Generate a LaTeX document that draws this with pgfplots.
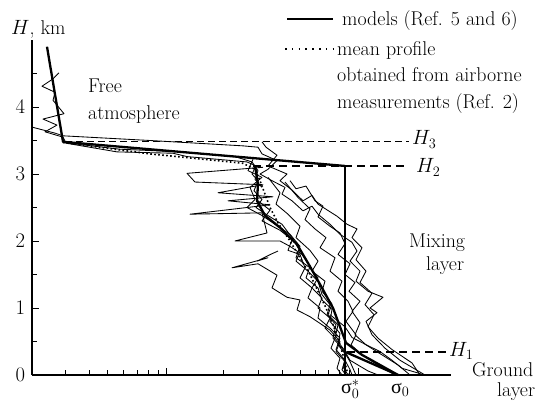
\documentclass[border=0pt]{standalone}
\usepackage{pgfplots}
\pgfplotsset{compat=1.18}
\usepackage{fontspec}
\newfontfamily\grk{Liberation Serif}
\begin{document}
\fontsize{20}{24}\selectfont
\begin{tikzpicture}[lbl/.style={anchor=base west, inner sep=0pt}]
\begin{axis}[
  scale only axis, width=419bp, height=335bp,
  xmin=32, xmax=451, ymin=0, ymax=5,
  axis lines*=left,
  axis line style={line width=1.1bp},
  xtick={166,358}, xticklabel=\empty,
  minor xtick={65.5,89,107.5,123,137,148,158,223,258,282,300,315,328,339,349},
  ytick={0,1,2,3,4}, minor ytick={0.5,1.5,2.5,3.5,4.5},
  tick align=inside, major tick length=7bp, minor tick length=5bp,
  every tick/.style={black, line width=0.9bp},
  tick label style={font=\fontsize{20}{24}\selectfont},
  clip=false,
  thinp/.style={black, line width=0.85bp, line join=round},
  model/.style={black, line width=2.3bp, line join=round},
]
% thin measured profiles
\addplot[thinp] coordinates {(32,3.70) (55,3.61) (63,3.57) (150,3.50) (243,3.42) (258,3.40) (262,3.30) (277,3.20) (268,3.07) (260,3.0) (272,2.9) (285,2.8) (282,2.7) (292,2.6) (303,2.45) (312,2.52) (318,2.4) (330,2.25) (340,2.1) (352,1.98) (357,1.85) (350,1.7) (360,1.55) (356,1.4) (368,1.25) (383,1.16) (370,1.0) (377,0.93) (366,0.8) (372,0.6) (385,0.4) (400,0.22) (425,0)};
\addplot[thinp] coordinates {(59,4.51) (53,4.42) (42,4.31) (55,4.22) (53,4.10) (64,3.90) (43,3.82) (57,3.73) (45,3.63) (63,3.55) (66,3.46) (117,3.33) (173,3.31) (187,3.26) (247,3.18) (256,3.12) (252,3.0) (258,2.9) (254,2.75) (262,2.62) (256,2.5) (268,2.38) (282,2.25) (292,2.05) (300,1.85) (296,1.7) (308,1.55) (318,1.4) (322,1.2) (330,1.05) (327,0.9) (336,0.75) (333,0.55) (342,0.4) (350,0.2) (356,0)};
\addplot[thinp] coordinates {(263,3.10) (187,3.01) (195,2.88) (263,2.84) (218,2.72) (273,2.66) (228,2.60) (270,2.54) (190,2.40) (262,2.42) (267,2.12) (235,2.0) (280,2.0) (290,1.92) (302,1.8) (310,1.62) (306,1.45) (318,1.3) (322,1.12) (332,0.98) (330,0.8) (340,0.62) (338,0.45) (346,0.3) (343,0.12) (348,0)};
\addplot[thinp] coordinates {(278,1.85) (272,1.81) (257,1.70) (268,1.75) (232,1.60) (258,1.66) (277,1.49) (272,1.30) (287,1.16) (300,1.12) (297,0.97) (310,0.87) (330,0.67) (340,0.5) (336,0.35) (345,0.2) (342,0.08) (346,0)};
\addplot[thinp] coordinates {(262,3.48) (266,3.40) (277,3.28) (268,3.12) (287,3.0) (280,2.9) (292,2.76) (303,2.6) (312,2.68) (318,2.55) (337,2.37) (347,2.25) (357,2.18) (352,2.05) (362,1.9) (356,1.72) (366,1.55) (360,1.38) (372,1.22) (365,1.05) (374,0.9) (368,0.72) (378,0.55) (392,0.38) (412,0.18) (420,0)};
\addplot[thinp] coordinates {(253,3.22) (248,3.05) (262,2.95) (250,2.8) (255,2.62) (247,2.5) (262,2.38) (275,2.25) (290,2.1) (300,1.92) (296,1.75) (310,1.6) (318,1.45) (312,1.3) (322,1.15) (318,1.0) (330,0.85) (325,0.7) (335,0.55) (331,0.4) (340,0.25) (337,0.1) (342,0)};
\addplot[thinp] coordinates {(285,2.88) (298,2.65) (310,2.48) (305,2.32) (315,2.18) (326,2.05) (320,1.9) (335,1.75) (330,1.55) (342,1.4) (338,1.25) (348,1.1) (353,0.95) (346,0.8) (356,0.6) (351,0.45) (362,0.3) (378,0.15) (395,0)};
\addplot[thinp] coordinates {(268,2.95) (280,2.72) (276,2.55) (288,2.4) (300,2.22) (296,2.05) (310,1.86) (318,1.7) (312,1.55) (325,1.4) (322,1.25) (332,1.06) (328,0.9) (338,0.75) (335,0.55) (343,0.4) (350,0.22) (368,0.06) (378,0)};
\addplot[thinp] coordinates {(290,2.9) (296,2.78) (306,2.82) (315,2.6) (323,2.52) (318,2.36) (330,2.22) (340,2.12) (345,1.96) (338,1.8) (350,1.66) (345,1.5) (355,1.38) (349,1.25) (360,1.1) (352,0.95) (360,0.78) (355,0.6) (366,0.45) (382,0.3) (398,0.15) (410,0)};
\addplot[thinp] coordinates {(258,2.6) (270,2.46) (262,2.3) (280,2.16) (292,2.02) (288,1.86) (300,1.8) (305,1.6) (300,1.45) (312,1.3) (308,1.15) (320,1.0) (318,0.85) (330,0.7) (340,0.55) (336,0.38) (345,0.22) (350,0.08) (352,0)};
\addplot[thinp] coordinates {(330,0.9) (345,0.72) (352,0.56) (365,0.46) (380,0.35) (392,0.22) (402,0.1) (418,0.03) (424,0)};
\addplot[thinp] coordinates {(63,3.47) (120,3.37) (180,3.33) (235,3.26) (252,3.18) (258,3.05) (255,2.92) (262,2.8)};
% mean profile
\addplot[black, line width=1.6bp, dash pattern=on 1.6bp off 2.4bp] coordinates {(63,3.47) (150,3.3) (243,3.16) (255,3.07) (260,2.9) (265,2.7) (270,2.5) (278,2.27) (290,2.0) (300,1.75) (310,1.5) (318,1.25) (326,1.0) (333,0.75) (338,0.55) (343,0.3) (348,0)};
% models
\addplot[model] coordinates {(47,4.9) (63,3.48) (345,3.12)};
\addplot[black, line width=1.4bp] coordinates {(345,3.12) (345,0)};
\addplot[model] coordinates {(346,0.34) (398,0)};
\addplot[model] coordinates {(255,3.12) (258,2.85) (257,2.6) (265,2.38) (280,2.2) (297,1.95) (310,1.62) (322,1.3) (333,1.0) (340,0.72) (346,0.48) (362,0.3) (380,0.15) (398,0)};
% layer boundaries
\addplot[black, line width=0.9bp, dash pattern=on 7bp off 4bp] coordinates {(65,3.48) (409,3.48)};
\addplot[black, line width=2bp, dash pattern=on 8bp off 5bp] coordinates {(253,3.12) (407,3.12)};
\addplot[black, line width=2bp, dash pattern=on 8bp off 5bp] coordinates {(347,0.34) (446,0.34)};
% labels
\node[lbl] at (axis cs:11,5.075) {$H$, km};
\node[lbl] at (axis cs:88,4.216) {Free};
\node[lbl] at (axis cs:88,3.81) {atmosphere};
\node[lbl] at (axis cs:412,3.433) {$H_3$};
\node[lbl] at (axis cs:416,3.015) {$H_2$};
\node[lbl] at (axis cs:449,0.273) {$H_1$};
\node[lbl] at (axis cs:409,1.91) {Mixing};
\node[lbl] at (axis cs:426,1.567) {layer};
\node[lbl] at (axis cs:472,-0.015) {Ground};
\node[lbl] at (axis cs:497,-0.32) {layer};
\node[lbl] at (axis cs:341,-0.28) {{\grk σ}$_0^*$};
\node[lbl] at (axis cs:391,-0.28) {{\grk σ}$_0$};
% legend
\draw[black, line width=2.2bp] (axis cs:287,5.313) -- (axis cs:333,5.313);
\node[lbl] at (axis cs:342,5.209) {models (Ref. 5 and 6)};
\draw[black, line width=1.6bp, dash pattern=on 1.6bp off 5.2bp] (axis cs:285,4.866) -- (axis cs:333,4.866);
\node[lbl] at (axis cs:337,4.776) {mean profile};
\node[lbl] at (axis cs:337,4.378) {obtained from airborne};
\node[lbl] at (axis cs:337,3.985) {measurements (Ref. 2)};
% page extent
\path (axis cs:0,-0.418) rectangle (axis cs:542,5.597);
\end{axis}
\end{tikzpicture}
\end{document}
